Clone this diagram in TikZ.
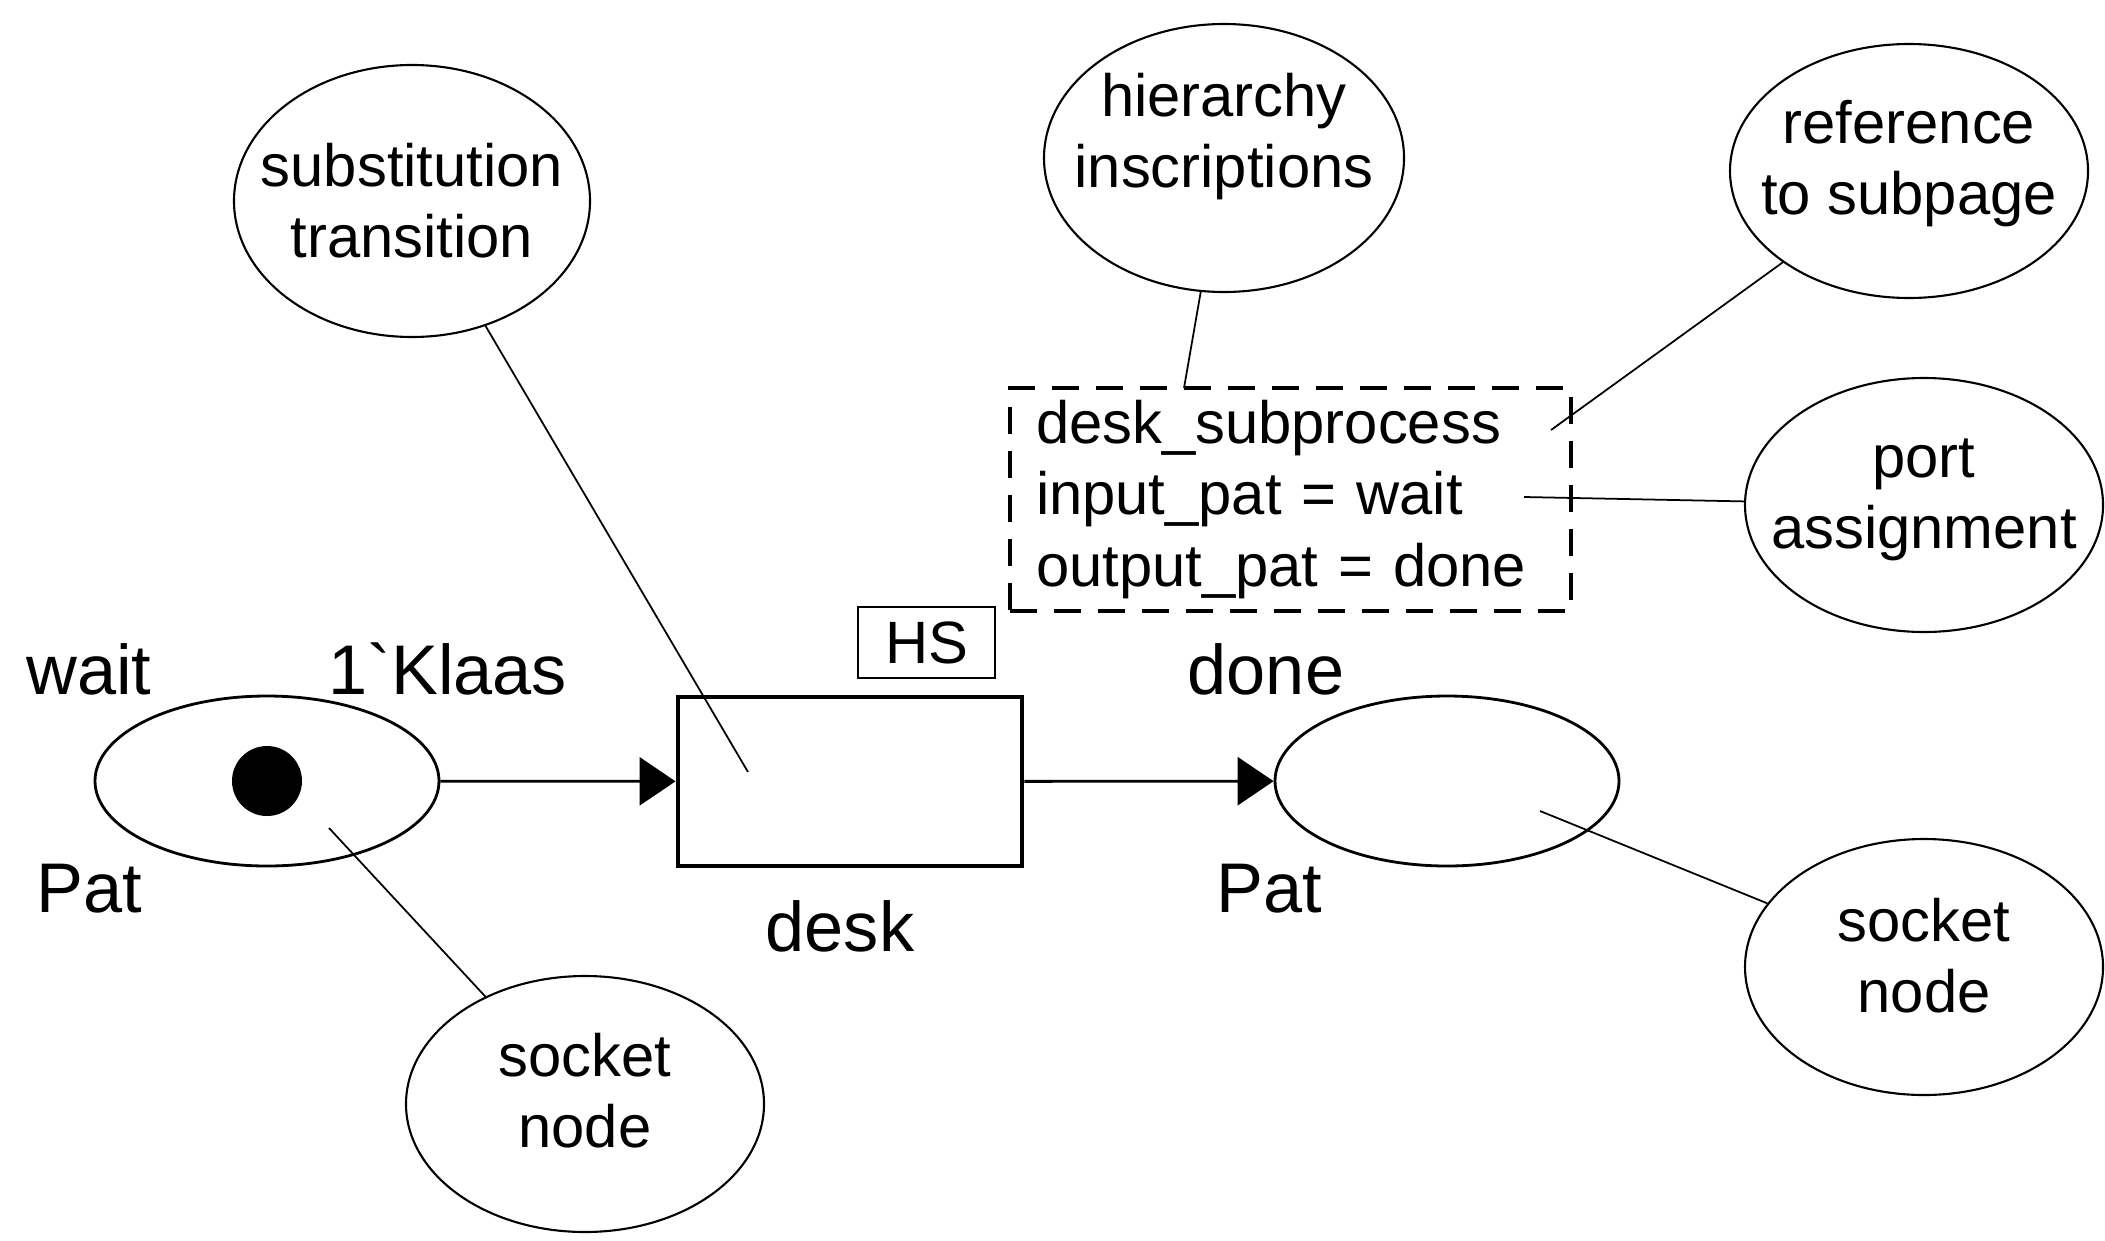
\documentclass[tikz,border=0pt]{standalone}
\usepackage{fontspec}
\setmainfont{Liberation Sans}[Ligatures=TeXOff]
\usetikzlibrary{shapes.geometric,arrows.meta}

\begin{document}
\begin{tikzpicture}[
    place/.style={
        ellipse,
        draw,
        line width=0.8pt,
        minimum width=3.44cm,
        minimum height=1.70cm
    },
    trans/.style={
        rectangle,
        draw,
        line width=1.4pt,
        minimum width=3.44cm,
        minimum height=1.69cm
    },
    token/.style={circle, fill=black, minimum size=0.70cm, inner sep=0pt},
    hsbox/.style={
        rectangle,
        draw,
        line width=0.8pt,
        minimum width=1.37cm,
        minimum height=0.71cm,
        inner sep=0pt,
        font=\fontsize{17}{20.4}\selectfont
    },
    inscr/.style={
        rectangle,
        draw,
        dash pattern=on 0.27cm off 0.17cm,
        line width=1pt,
        minimum height=2.23cm,
        text width=5.09cm,
        inner xsep=0.26cm,
        align=left,
        font=\fontsize{17}{20.4}\selectfont
    },
    note/.style={
        ellipse,
        draw,
        line width=0.6pt,
        minimum width=3.58cm,
        minimum height=2.56cm
    },
    notetext/.style={
        inner sep=0pt,
        align=center,
        font=\fontsize{17}{20.2}\selectfont
    },
    lbl/.style={font=\fontsize{20}{24}\selectfont},
    arc/.style={-{Triangle[length=3.6mm, width=4.8mm]}, line width=0.8pt},
    link/.style={line width=0.5pt}
]

\useasboundingbox (0,0) rectangle (21.05,12.40);

% Net
\node[place] (wait) at (2.67,4.59) {};
\node[token] (tok) at (wait) {};
\node[trans] (desk) at (8.50,4.585) {};
\node[hsbox] (hs) at (9.265,5.975) {HS};
\node[place] (done) at (14.47,4.59) {};

\draw[arc] (wait) -- (desk);
\draw[arc] (desk) -- (done);

% Labels
\node[lbl] (waitname) at (0.89,5.71) {wait};
\node[lbl] (waitinit) at (4.48,5.71) {1`Klaas};
\node[lbl] (waittype) at (0.89,3.51) {Pat};
\node[lbl] (deskname) at (8.40,3.14) {desk};
\node[lbl] (donename) at (12.66,5.71) {done};
\node[lbl] (donetype) at (12.69,3.51) {Pat};

% Hierarchy inscription
\node[inscr] (hier) at (12.905,7.405) {desk\_subprocess\\input\_pat = wait\\output\_pat = done};

% Comments
\node[note, minimum width=3.56cm, minimum height=2.72cm] (subst) at (4.12,10.39) {};
\node[note, minimum width=3.60cm, minimum height=2.68cm] (hiernote) at (12.24,10.82) {};
\node[note, minimum height=2.54cm] (refnote) at (19.09,10.69) {};
\node[note, minimum height=2.54cm] (portnote) at (19.24,7.35) {};
\node[note] (sockright) at (19.24,2.73) {};
\node[note] (sockleft) at (5.85,1.36) {};

\node[notetext] (substtext) at (4.12,10.39) {substitution\\transition};
\node[notetext] (hiertext) at (12.24,11.03) {hierarchy\\inscriptions};
\node[notetext] (reftext) at (19.09,10.76) {reference\\to subpage};
\node[notetext] (porttext) at (19.24,7.40) {port\\assignment};
\node[notetext] (socktextr) at (19.24,2.84) {socket\\node};
\node[notetext] (socktextl) at (5.85,1.49) {socket\\node};

\coordinate (substtip) at (7.48,4.68);
\coordinate (hiertip) at (11.84,8.52);
\coordinate (reftip) at (15.51,8.10);
\coordinate (porttip) at (15.24,7.43);
\coordinate (socktipr) at (15.40,4.29);
\coordinate (socktipl) at (3.29,4.12);

\draw[link] (subst) -- (substtip);
\draw[link] (hiernote) -- (hiertip);
\draw[link] (refnote) -- (reftip);
\draw[link] (portnote) -- (porttip);
\draw[link] (sockright) -- (socktipr);
\draw[link] (sockleft) -- (socktipl);

\end{tikzpicture}
\end{document}
